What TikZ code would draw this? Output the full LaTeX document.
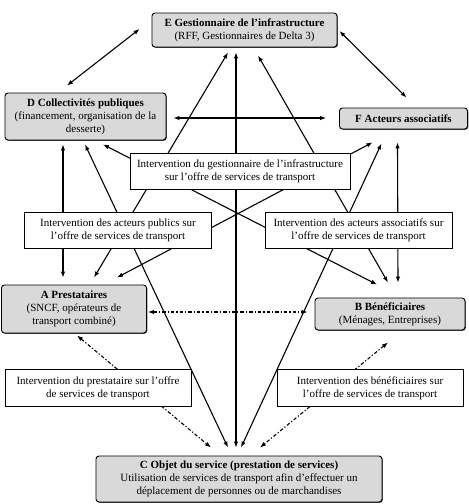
\documentclass[tikz,border=0pt]{standalone}
\usepackage{fontspec}
\setmainfont{Liberation Serif}
\usetikzlibrary{arrows.meta, shadows}
\tikzset{>={Latex[length=6pt,width=4.5pt]}}
\pgfdeclarelayer{back}
\pgfsetlayers{back,main}

\begin{document}
\begin{tikzpicture}[x=1pt,y=1pt,
  actor/.style={draw, line width=0.9pt, rounded corners=3pt, fill=gray!30, align=center, inner sep=0pt, font=\fontsize{11}{13}\selectfont,
    drop shadow={shadow xshift=0.8pt, shadow yshift=-0.8pt, opacity=0.9, fill=black!80}},
  interv/.style={draw, line width=0.6pt, fill=white, align=center, inner sep=0pt, minimum width=187pt, minimum height=36pt, font=\fontsize{11}{13}\selectfont},
  link/.style={<->, line width=1.1pt},
  dlink/.style={<->, line width=1.1pt, dash pattern=on 3.5pt off 2pt on 1.2pt off 2pt}]
\useasboundingbox (0,0) rectangle (469,504);

% acteurs
\node[actor, minimum width=185pt, minimum height=34pt] (E) at (244.5,474) {\textbf{E Gestionnaire de l’infrastructure}\\(RFF, Gestionnaires de Delta 3)};
\node[actor, minimum width=161pt, minimum height=47pt] (D) at (85.5,387.5) {\textbf{D Collectivités publiques}\\(financement, organisation de la\\desserte)};
\node[actor, minimum width=128pt, minimum height=21pt] (F) at (403.5,385.5) {\textbf{F Acteurs associatifs}};
\node[actor, minimum width=145pt, minimum height=48pt] (A) at (74,195) {\textbf{A Prestataires}\\(SNCF, opérateurs de\\transport combiné)};
\node[actor, minimum width=150pt, minimum height=32pt] (B) at (390,190) {\textbf{B Bénéficiaires}\\(Ménages, Entreprises)};
\node[actor, minimum width=286pt, minimum height=46pt] (C) at (239,25) {\textbf{C Objet du service (prestation de services)}\\Utilisation de services de transport afin d’effectuer un\\déplacement de personnes ou de marchandises};

% interventions
\node[interv, minimum width=220pt] (G) at (240,333) {Intervention du gestionnaire de l’infrastructure\\sur l’offre de services de transport};
\node[interv] (P) at (118,274) {Intervention des acteurs publics sur\\l’offre de services de transport};
\node[interv] (Q) at (358.5,274) {Intervention des acteurs associatifs sur\\l’offre de services de transport};
\node[interv, minimum width=186pt, minimum height=37pt] (R) at (98,116) {Intervention du prestataire sur l’offre\\de services de transport};
\node[interv, minimum width=186pt, minimum height=37pt] (S) at (370,116) {Intervention des bénéficiaires sur\\l’offre de services de transport};

\begin{pgfonlayer}{back}
\draw[link] ([shift={(-12,1)}]E.west) -- ([shift={(-18.5,7)}]D.north);
\draw[link] ([shift={(2,-1)}]E.east) -- ([shift={(3,10)}]F.north);
\draw[link] ([shift={(7,-1.5)}]D.east) -- ([shift={(-13,0.5)}]F.west);
\draw[link] ([shift={(-22.5,-4)}]D.south) -- ([shift={(-11,7)}]A.north);
\draw[link] ([shift={(-0.5,-4)}]D.south) -- ([shift={(-11,8)}]C.north);
\draw[link] ([shift={(17.5,-4)}]D.south) -- ([shift={(-13,13)}]B.north);
\draw[link] ([shift={(-16.5,-5)}]E.south) -- ([shift={(20,7)}]A.north);
\draw[link] ([shift={(-8.5,-5)}]E.south) -- ([shift={(-3,8)}]C.north);
\draw[link] ([shift={(13.5,-8)}]E.south) -- ([shift={(-2,15)}]B.north);
\draw[link] ([shift={(-31,-13)}]F.south) -- ([shift={(43,7)}]A.north);
\draw[link] ([shift={(-22,-14)}]F.south) -- ([shift={(2,8)}]C.north);
\draw[link] ([shift={(-6,-13)}]F.south) -- ([shift={(8,15)}]B.north);
\draw[dlink] ([shift={(1,-3)}]A.east) -- ([shift={(-7,2)}]B.west);
\draw[dlink] ([shift={(3,-2)}]A.south) -- ([shift={(-28,8)}]C.north);
\draw[dlink] ([shift={(-2,-12)}]B.south) -- ([shift={(21,8)}]C.north);
\end{pgfonlayer}
\end{tikzpicture}
\end{document}
